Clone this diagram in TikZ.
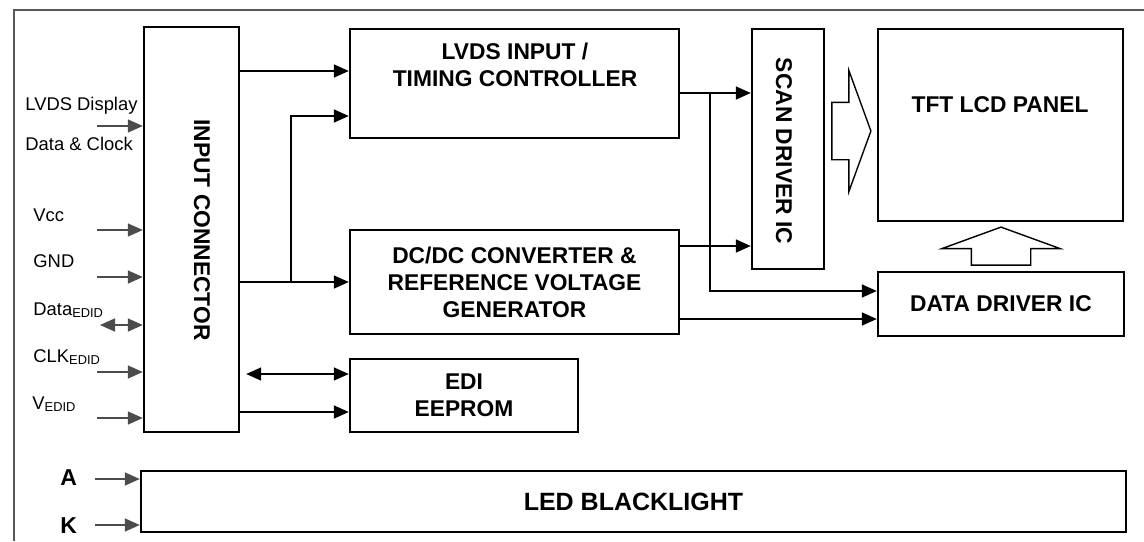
\documentclass[tikz,border=0pt]{standalone}
\usepackage{fontspec}
\setmainfont{Liberation Sans}
\usepackage{tikz}
\usetikzlibrary{arrows.meta,positioning,shapes.arrows,calc}

\begin{document}
\begin{tikzpicture}[x=0.5pt, y=-0.5pt,
    box/.style={draw, line width=1.2pt, inner sep=0pt, align=center,
                font=\bfseries\fontsize{11.4}{13.5}\selectfont},
    txt/.style={inner sep=0pt, align=center,
                font=\bfseries\fontsize{11.4}{13.5}\selectfont},
    pin/.style={anchor=base west, inner sep=0pt, font=\fontsize{9.2}{11}\selectfont},
    pinb/.style={anchor=base west, inner sep=0pt, font=\bfseries\fontsize{11.5}{13}\selectfont},
    arr/.style={-{Triangle[length=7.5pt, width=6.5pt]}, line width=0.8pt},
    darr/.style={{Triangle[length=7.5pt, width=6.5pt]}-{Triangle[length=7.5pt, width=6.5pt]},
                 line width=0.8pt},
    inarr/.style={arr, draw=black!70},
    fat/.style={single arrow, draw, line width=0.7pt, inner xsep=0pt,
                single arrow tip angle=140, anchor=tail},
  ]
    \useasboundingbox (0,0) rectangle (1144,541);
    \draw[line width=1pt, black!65] (14,541) -- (14,10) -- (1144,10);

    % blocks
    \node[box, minimum width=47.5pt, minimum height=202.5pt] (conn) at (191.5, 229.5) {};
    \node[txt, rotate=-90] (conntxt) at (202, 230) {INPUT CONNECTOR};
    \node[box, minimum width=164.5pt, minimum height=54.5pt] (lvds) at (514.5, 83.5) {};
    \node[txt] (lvdstxt) at (515, 64.5) {LVDS INPUT /\\TIMING CONTROLLER};
    \node[box, minimum width=164.5pt, minimum height=52pt] (dcdc) at (514.5, 282)
        {DC/DC CONVERTER \&\\REFERENCE VOLTAGE\\GENERATOR};
    \node[box, minimum width=114pt, minimum height=36.5pt] (edi) at (464, 395.5) {EDI\\EEPROM};
    \node[box, minimum width=36pt, minimum height=120pt] (scan) at (788, 149) {};
    \node[txt, rotate=-90] (scantxt) at (784, 151) {SCAN DRIVER IC};
    \node[box, minimum width=122.5pt, minimum height=96pt] (tft) at (1000.5, 125) {};
    \node[txt] (tfttxt) at (1000, 105) {TFT LCD PANEL};
    \node[box, minimum width=123pt, minimum height=32pt] (ddrv) at (1001, 304) {DATA DRIVER IC};
    \node[box, minimum width=492.5pt, minimum height=30.5pt,
          font=\bfseries\fontsize{12.5}{14}\selectfont] (led) at (633.5, 501.5) {LED BLACKLIGHT};

    % hollow bus arrows
    \node[fat, minimum height=19.5pt, inner ysep=14pt, single arrow head extend=16pt]
        (scanarr) at ([xshift=3pt, yshift=9pt]scan.east) {};
    \node[fat, rotate=90, minimum height=19pt, inner ysep=14.5pt,
          single arrow head extend=14.75pt] (ddrvarr) at ([yshift=2.5pt]ddrv.north) {};

    % connector -> timing controller / dc-dc
    \coordinate (lv1) at ([yshift=6.25pt]lvds.west);
    \coordinate (lv2) at ([yshift=-16.25pt]lvds.west);
    \coordinate (sp) at ([xshift=25.5pt]conn.east |- dcdc.west);
    \draw[arr] (conn.east |- lv1) -- (lv1);
    \draw[arr] (conn.east |- dcdc.west) -- (dcdc.west);
    \draw[arr] (sp) |- (lv2);

    % outputs to the drivers
    \coordinate (t1) at ([yshift=-4.75pt]lvds.east);
    \coordinate (br) at ([xshift=15pt]t1);
    \coordinate (d1) at ([yshift=6.5pt]ddrv.west);
    \coordinate (d2) at ([yshift=18pt]dcdc.east);
    \coordinate (d3) at ([yshift=-7.5pt]ddrv.west);
    \draw[arr] (t1) -- (scan.west |- t1);
    \draw[arr] (br) |- (d1);
    \draw[arr] (d2) -- (scan.west |- d2);
    \draw[arr] (dcdc.east |- d3) -- (d3);

    % eeprom
    \coordinate (e1) at ([yshift=10.75pt]edi.west);
    \coordinate (e2) at ([yshift=-8.25pt]edi.west);
    \draw[darr] ([xshift=3pt]conn.east |- e1) -- (e1);
    \draw[arr] (conn.east |- e2) -- (e2);

    % inputs
    \foreach \nm/\y in {lvin/126, vccin/230, gndin/277, clkin/372, vin/418}{
      \coordinate (\nm) at (97, \y);
      \draw[inarr] (\nm) -- (conn.west |- \nm);
    }
    \coordinate (datin) at (100, 325);
    \draw[darr, draw=black!70] (datin) -- (conn.west |- datin);
    \coordinate (ain) at (95, 479);
    \coordinate (kin) at (95, 525);
    \draw[inarr] (ain) -- (led.west |- ain);
    \draw[inarr] (kin) -- (led.west |- kin);

    \node[pin] (lvdslbl) at (25, 110) {LVDS Display};
    \node[pin] (clklbl)  at (25, 150) {Data \& Clock};
    \node[pin] (vcclbl)  at (33, 221) {Vcc};
    \node[pin] (gndlbl)  at (33, 267) {GND};
    \node[pin] (datlbl)  at (33, 315) {Data\textsubscript{EDID}};
    \node[pin] (clkelbl) at (33, 362) {CLK\textsubscript{EDID}};
    \node[pin] (vlbl)    at (32, 409) {V\textsubscript{EDID}};
    \node[pinb] (albl) at (60, 485) {A};
    \node[pinb] (klbl) at (60, 533) {K};
  \end{tikzpicture}
\end{document}
